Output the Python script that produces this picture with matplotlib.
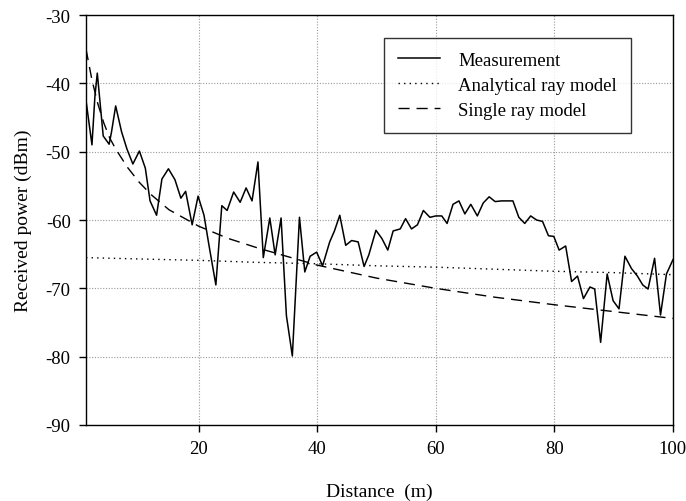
import matplotlib
matplotlib.use("Agg")
import matplotlib.pyplot as plt

plt.rcParams['font.family'] = ['Liberation Serif', 'DejaVu Serif']
plt.rcParams['axes.unicode_minus'] = False

# Measurement
meas_x = [1, 2, 2.5, 2.9, 3.9, 4.9, 5.3, 6, 7, 7.9, 8.9, 10, 11, 11.8, 12.9, 13.8, 14.9,
          16, 17, 17.8, 18.9, 19.9, 20.9, 21.7, 22.9, 23.9, 24.8, 25.9, 27, 28, 29, 30,
          30.9, 32, 32.9, 33.9, 34.8, 35.8, 37, 37.9, 38.8, 39.9, 40.9, 42.1, 42.9, 43.8,
          44.8, 45.8, 46.9, 47.9, 48.7, 49.9, 50.9, 51.9, 52.8, 54, 54.9, 55.9, 56.9,
          57.9, 59, 60, 61, 61.9, 62.9, 63.9, 64.9, 65.9, 67, 68, 69, 70, 71.1, 73, 74,
          75, 76, 77, 78, 79, 79.9, 80.8, 81.9, 82.9, 83.9, 84.9, 86, 86.8, 87.8, 88.9,
          89.9, 90.9, 91.9, 93, 94, 94.9, 95.8, 96.9, 97.9, 98.9, 100]
meas_y = [-42.5, -49.0, -41.9, -38.5, -47.7, -48.9, -47.1, -43.3, -47.1, -49.6, -51.8,
          -49.9, -52.4, -57.2, -59.3, -54.0, -52.5, -54.1, -56.8, -55.8, -60.7, -56.5,
          -59.3, -63.5, -69.5, -57.9, -58.6, -55.9, -57.4, -55.3, -57.2, -51.5, -65.5,
          -59.7, -65.1, -59.7, -74.0, -79.9, -59.6, -67.6, -65.3, -64.7, -66.7, -63.2,
          -61.6, -59.3, -63.7, -63.0, -63.2, -66.8, -65.1, -61.5, -62.7, -64.4, -61.6,
          -61.3, -59.8, -61.3, -60.7, -58.6, -59.6, -59.4, -59.4, -60.5, -57.7, -57.2,
          -59.1, -57.7, -59.4, -57.5, -56.6, -57.3, -57.2, -57.2, -59.6, -60.5, -59.4,
          -60.0, -60.2, -62.3, -62.4, -64.4, -63.8, -69.0, -68.2, -71.5, -69.8, -70.1,
          -77.9, -67.9, -71.8, -73.0, -65.3, -67.1, -68.2, -69.5, -70.1, -65.6, -73.9,
          -67.9, -65.8]

# Analytical ray model
ana_x = [1, 10, 20, 30, 40, 50, 60, 70, 80, 90, 100]
ana_y = [-65.5, -65.7, -65.9, -66.2, -66.4, -66.7, -66.9, -67.2, -67.5, -67.7, -68.0]

# Single ray model
single_x = [1, 2, 3, 4, 5, 6, 8, 10, 12, 15, 20, 25, 30, 40, 50, 60, 70, 80, 90, 100]
single_y = [-35, -39.5, -43, -45.8, -48, -49.6, -52.3, -54.5, -56.3, -58.5, -60.9, -62.7,
            -64.1, -66.6, -68.5, -70.0, -71.3, -72.4, -73.4, -74.4]

xticks = [20, 40, 60, 80, 100]
yticks = [-90, -80, -70, -60, -50, -40, -30]

fig = plt.figure(figsize=(6.86, 5.02), dpi=100)
ax = fig.add_axes([0.1254, 0.1514, 0.8556, 0.8166])

ax.plot(meas_x, meas_y, color='black', lw=1.1, label='Measurement')
ax.plot(ana_x, ana_y, color='black', lw=1.0, linestyle=(0, (1, 3)), label='Analytical ray model')
ax.plot(single_x, single_y, color='black', lw=1.0, linestyle=(0, (8, 5)), label='Single ray model')

ax.set_xlim(1, 100)
ax.set_ylim(-90, -30)
ax.set_xticks(xticks)
ax.set_yticks(yticks)
ax.tick_params(direction='out', length=5, width=1, labelsize=13.5, colors='black', pad=6)
ax.grid(True, color='#999999', linestyle=(0, (1, 1.5)), lw=0.8)
for s in ax.spines.values():
    s.set_color('black')
    s.set_linewidth(1.0)

ax.set_xlabel('Distance  (m)', fontsize=14, labelpad=18)
ax.set_ylabel('Received power (dBm)', fontsize=14, labelpad=10)

leg = ax.legend(loc='upper right', bbox_to_anchor=(0.945, 0.968), fontsize=13.5,
                frameon=True, fancybox=False, edgecolor='black', handlelength=2.2,
                borderpad=0.75, labelspacing=0.42, handletextpad=1.0)
leg.get_frame().set_linewidth(1.0)

fig.savefig('out.png', dpi=100)
